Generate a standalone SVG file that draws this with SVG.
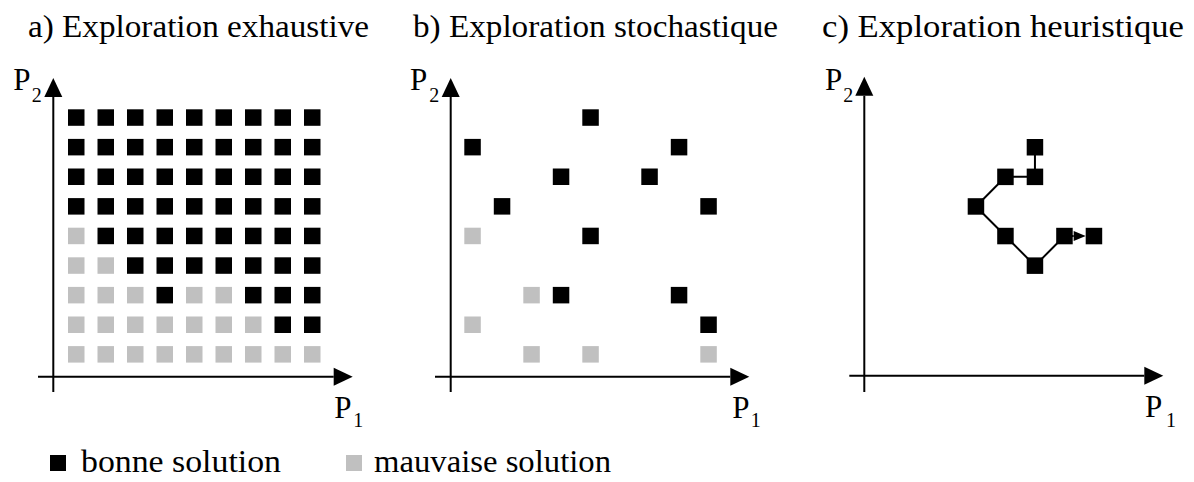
<svg xmlns="http://www.w3.org/2000/svg" width="1194" height="482" viewBox="0 0 1194 482">
<style>
  .tx { font-family: 'Liberation Serif', Tinos, 'Times New Roman', Times, 'Nimbus Roman', 'Nimbus Roman No9 L', 'DejaVu Serif', 'Noto Serif', FreeSerif, 'Linux Libertine O', serif; fill: #000; }
  .t { font-size: 31px; }
  .P { font-size: 31px; }
  .s { font-size: 20px; }
  .b { fill: #000; }
  .g { fill: #c0c0c0; }
  .ax { stroke: #000; stroke-width: 2; fill: none; }
  .ln { stroke: #000; stroke-width: 2; fill: none; }
</style>
<defs>
  <marker id="ah" markerUnits="userSpaceOnUse" markerWidth="19" markerHeight="18" refX="0" refY="9" orient="auto" overflow="visible">
    <path d="M0,0 L19,9 L0,18 Z" fill="#000"/>
  </marker>
  <marker id="ahs" markerUnits="userSpaceOnUse" markerWidth="12" markerHeight="10" refX="0" refY="5" orient="auto" overflow="visible">
    <path d="M0,0 L12,5 L0,10 Z" fill="#000"/>
  </marker>
  <rect id="sq" width="16.5" height="16.5"/>
</defs>

<g id="titles" class="tx">
  <text class="t" x="28" y="37" textLength="341" lengthAdjust="spacingAndGlyphs">a) Exploration exhaustive</text>
  <text class="t" x="413" y="37" textLength="365" lengthAdjust="spacingAndGlyphs">b) Exploration stochastique</text>
  <text class="t" x="822" y="37" textLength="362" lengthAdjust="spacingAndGlyphs">c) Exploration heuristique</text>
</g>

<g id="axes">
  <line class="ax" x1="53.3" y1="392" x2="53.3" y2="97"  marker-end="url(#ah)"/>
  <line class="ax" x1="38" y1="376.7" x2="333.7" y2="376.7" marker-end="url(#ah)"/>
  <line class="ax" x1="450.7" y1="392" x2="450.7" y2="97" marker-end="url(#ah)"/>
  <line class="ax" x1="435" y1="376.7" x2="730.3" y2="376.7" marker-end="url(#ah)"/>
  <line class="ax" x1="864.3" y1="392" x2="864.3" y2="95.7" marker-end="url(#ah)"/>
  <line class="ax" x1="849.3" y1="375.7" x2="1144.3" y2="375.7" marker-end="url(#ah)"/>
</g>

<g id="axis-labels" class="tx">
  <text class="P" x="13.3" y="90">P</text><text class="s" x="31.7" y="101.7">2</text>
  <text class="P" x="334.3" y="418">P</text><text class="s" x="353.3" y="426.7">1</text>
  <text class="P" x="410" y="90">P</text><text class="s" x="429.3" y="101.7">2</text>
  <text class="P" x="732.3" y="418">P</text><text class="s" x="750.7" y="426.7">1</text>
  <text class="P" x="825" y="90">P</text><text class="s" x="843.3" y="101.7">2</text>
  <text class="P" x="1145" y="417">P</text><text class="s" x="1166" y="426.5">1</text>
</g>

<g id="panel-a">
  <g class="b">
    <use href="#sq" x="68" y="109.3"/><use href="#sq" x="97.5" y="109.3"/><use href="#sq" x="127" y="109.3"/><use href="#sq" x="156.5" y="109.3"/><use href="#sq" x="186" y="109.3"/><use href="#sq" x="215.5" y="109.3"/><use href="#sq" x="245" y="109.3"/><use href="#sq" x="274.5" y="109.3"/><use href="#sq" x="304" y="109.3"/>
    <use href="#sq" x="68" y="138.9"/><use href="#sq" x="97.5" y="138.9"/><use href="#sq" x="127" y="138.9"/><use href="#sq" x="156.5" y="138.9"/><use href="#sq" x="186" y="138.9"/><use href="#sq" x="215.5" y="138.9"/><use href="#sq" x="245" y="138.9"/><use href="#sq" x="274.5" y="138.9"/><use href="#sq" x="304" y="138.9"/>
    <use href="#sq" x="68" y="168.5"/><use href="#sq" x="97.5" y="168.5"/><use href="#sq" x="127" y="168.5"/><use href="#sq" x="156.5" y="168.5"/><use href="#sq" x="186" y="168.5"/><use href="#sq" x="215.5" y="168.5"/><use href="#sq" x="245" y="168.5"/><use href="#sq" x="274.5" y="168.5"/><use href="#sq" x="304" y="168.5"/>
    <use href="#sq" x="68" y="198.1"/><use href="#sq" x="97.5" y="198.1"/><use href="#sq" x="127" y="198.1"/><use href="#sq" x="156.5" y="198.1"/><use href="#sq" x="186" y="198.1"/><use href="#sq" x="215.5" y="198.1"/><use href="#sq" x="245" y="198.1"/><use href="#sq" x="274.5" y="198.1"/><use href="#sq" x="304" y="198.1"/>
    <use href="#sq" x="97.5" y="227.7"/><use href="#sq" x="127" y="227.7"/><use href="#sq" x="156.5" y="227.7"/><use href="#sq" x="186" y="227.7"/><use href="#sq" x="215.5" y="227.7"/><use href="#sq" x="245" y="227.7"/><use href="#sq" x="274.5" y="227.7"/><use href="#sq" x="304" y="227.7"/>
    <use href="#sq" x="127" y="257.3"/><use href="#sq" x="156.5" y="257.3"/><use href="#sq" x="186" y="257.3"/><use href="#sq" x="215.5" y="257.3"/><use href="#sq" x="245" y="257.3"/><use href="#sq" x="274.5" y="257.3"/><use href="#sq" x="304" y="257.3"/>
    <use href="#sq" x="156.5" y="286.9"/><use href="#sq" x="245" y="286.9"/><use href="#sq" x="274.5" y="286.9"/><use href="#sq" x="304" y="286.9"/>
    <use href="#sq" x="274.5" y="316.5"/><use href="#sq" x="304" y="316.5"/>
  </g>
  <g class="g">
    <use href="#sq" x="68" y="227.7"/>
    <use href="#sq" x="68" y="257.3"/><use href="#sq" x="97.5" y="257.3"/>
    <use href="#sq" x="68" y="286.9"/><use href="#sq" x="97.5" y="286.9"/><use href="#sq" x="127" y="286.9"/><use href="#sq" x="186" y="286.9"/><use href="#sq" x="215.5" y="286.9"/>
    <use href="#sq" x="68" y="316.5"/><use href="#sq" x="97.5" y="316.5"/><use href="#sq" x="127" y="316.5"/><use href="#sq" x="156.5" y="316.5"/><use href="#sq" x="186" y="316.5"/><use href="#sq" x="215.5" y="316.5"/><use href="#sq" x="245" y="316.5"/>
    <use href="#sq" x="68" y="346.1"/><use href="#sq" x="97.5" y="346.1"/><use href="#sq" x="127" y="346.1"/><use href="#sq" x="156.5" y="346.1"/><use href="#sq" x="186" y="346.1"/><use href="#sq" x="215.5" y="346.1"/><use href="#sq" x="245" y="346.1"/><use href="#sq" x="274.5" y="346.1"/><use href="#sq" x="304" y="346.1"/>
  </g>
</g>

<g id="panel-b">
  <g class="b">
    <use href="#sq" x="582.3" y="109.3"/>
    <use href="#sq" x="464.3" y="138.9"/><use href="#sq" x="670.8" y="138.9"/>
    <use href="#sq" x="552.8" y="168.5"/><use href="#sq" x="641.3" y="168.5"/>
    <use href="#sq" x="493.8" y="198.1"/><use href="#sq" x="700.3" y="198.1"/>
    <use href="#sq" x="582.3" y="227.7"/>
    <use href="#sq" x="552.8" y="286.9"/><use href="#sq" x="670.8" y="286.9"/>
    <use href="#sq" x="700.3" y="316.5"/>
  </g>
  <g class="g">
    <use href="#sq" x="464.3" y="227.7"/>
    <use href="#sq" x="523.3" y="286.9"/>
    <use href="#sq" x="464.3" y="316.5"/>
    <use href="#sq" x="523.3" y="346.1"/><use href="#sq" x="582.3" y="346.1"/><use href="#sq" x="700.3" y="346.1"/>
  </g>
</g>

<g id="connectors">
  <path class="ln" d="M1034.95,147.25 V176.85 H1005.45 L975.95,206.45 L1005.45,236.05 L1034.95,265.65 L1064.45,236.05"/>
  <line class="ln" x1="1064.45" y1="236.05" x2="1073.7" y2="236.05" marker-end="url(#ahs)"/>
</g>

<g id="panel-c" class="b">
  <g id="c1"><use href="#sq" x="1026.7" y="139"/></g>
  <g id="c2"><use href="#sq" x="1026.7" y="168.6"/></g>
  <g id="c3"><use href="#sq" x="997.2" y="168.6"/></g>
  <g id="c4"><use href="#sq" x="967.7" y="198.2"/></g>
  <g id="c5"><use href="#sq" x="997.2" y="227.8"/></g>
  <g id="c6"><use href="#sq" x="1026.7" y="257.4"/></g>
  <g id="c7"><use href="#sq" x="1056.2" y="227.8"/></g>
  <g id="c8"><use href="#sq" x="1085.7" y="227.8"/></g>
</g>

<g id="legend" class="tx">
  <rect class="b" x="50" y="455" width="16" height="16"/>
  <text class="t" x="81" y="472" textLength="200" lengthAdjust="spacingAndGlyphs">bonne solution</text>
  <rect class="g" x="346" y="455" width="16" height="16"/>
  <text class="t" x="374" y="472" textLength="237" lengthAdjust="spacingAndGlyphs">mauvaise solution</text>
</g>
</svg>
